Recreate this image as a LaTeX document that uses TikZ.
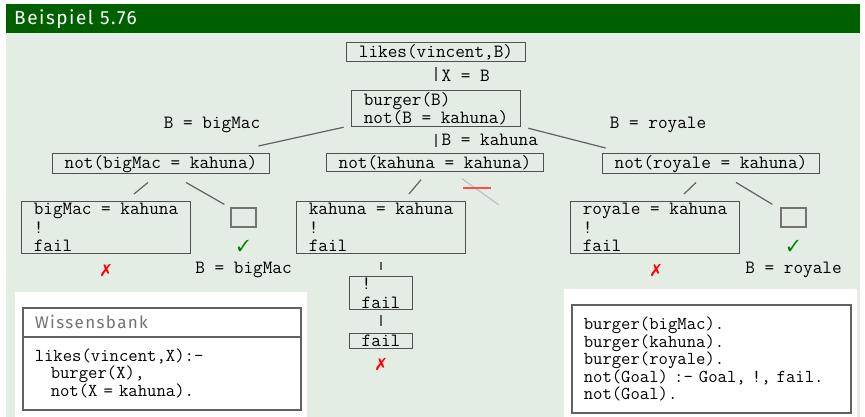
\documentclass[tikz,border=0pt]{standalone}
\usepackage{fontspec}
\usepackage{pifont}
\usetikzlibrary{calc}

\newfontfamily\headfont[LetterSpace=8]{Fira Sans}
\newcommand\treefont{\fontsize{18.7}{18.5}\selectfont\ttfamily}
\newcommand\codefont{\fontsize{18.2}{16.7}\selectfont\ttfamily}

\definecolor{blockhead}{RGB}{0,96,0}
\definecolor{blockbody}{RGB}{228,237,228}
\definecolor{boxline}{RGB}{80,80,80}

\begin{document}
\begin{tikzpicture}[x=1pt, y=-1pt,
  goal/.style={draw=boxline, line width=1.2pt, inner xsep=12.5pt, inner ysep=1.5pt,
    font=\treefont, align=left, anchor=north},
  hole/.style={draw=black!55, line width=1.2pt, minimum width=25pt, minimum height=19pt, inner sep=0pt},
  branch/.style={draw=black!62, line width=1.2pt},
  lbl/.style={font=\treefont, inner sep=0pt},
  yes/.style={text=green!50!black, font=\fontsize{16}{16}\selectfont, inner sep=0pt},
  no/.style={text=red, font=\fontsize{17}{17}\selectfont, inner sep=0pt},
  codebox/.style={draw=black!62, line width=1.5pt, anchor=north west, align=left, inner xsep=12pt}]
\useasboundingbox (0,0) rectangle (865,417);
\fill[white] (0,0) rectangle (865,417);

% block
\fill[blockhead] (6,4) rectangle (860,33);
\fill[blockbody] (6,33) rectangle (860,417);
\node[anchor=base west, inner sep=0pt, text=white, font=\headfont\fontsize{19}{19}\selectfont] (title) at (14,25) {Beispiel 5.76};

% tree
\node[goal] (likes) at (436,42) {likes(vincent,B)};
\node[goal] (burger) at (436,90) {burger(B)\\not(B = kahuna)};
\node[goal] (notbig) at (161,153) {not(bigMac = kahuna)};
\node[goal] (notkah) at (435,153) {not(kahuna = kahuna)};
\node[goal] (notroy) at (711,153) {not(royale = kahuna)};
\node[goal] (bigbox) at (106,201) {bigMac = kahuna\\!\\fail};
\node[goal] (kahbox) at (381,201) {kahuna = kahuna\\!\\fail};
\node[goal] (roybox) at (655,201) {royale = kahuna\\!\\fail};
\node[goal] (cutfail) at (381,276) {!\\fail};
\node[goal] (lastfail) at (381,333) {fail};
\node[hole] (holeL) at (243.5,217.5) {};
\node[hole] (holeR) at (793.5,217.5) {};
\coordinate (cutend) at (499,205);

\draw[branch, shorten <=5pt, shorten >=9pt] (likes.south) -- (burger.north)
  node[lbl, midway, right=5pt] {X = B};
\draw[branch, shorten <=7pt, shorten >=6pt] (burger.south) -- (burger.south |- notkah.north)
  node[lbl, midway, right=5pt] {B = kahuna};
\draw[branch] ($(burger.south west)+(-7,0)$) -- ($(notbig.north east)+(-12,-7)$);
\draw[branch] ($(burger.south east)+(7,1)$) -- ($(notroy.north west)+(4,-5)$);
\node[lbl] (lblbig) at (212,125) {B = bigMac};
\node[lbl] (lblroy) at (658,125) {B = royale};

\draw[branch] ($(notbig.south)+(-13,8)$) -- ($(bigbox.north)+(28,-7)$);
\draw[branch] ($(notbig.south)+(25,8)$) -- ($(holeL.north west)+(-6,-3)$);
\draw[branch] ($(notkah.south)+(-14,8)$) -- ($(kahbox.north)+(28,-7)$);
\draw[black!25, line width=1.2pt] ($(notkah.south)+(27,7)$) -- (cutend);
\draw[red!70!white, line width=1.6pt] ($(notkah.south)+(28,16)$) -- ++(28,0);
\draw[branch] ($(notroy.south)+(-15,8)$) -- ($(roybox.north)+(29,-7)$);
\draw[branch] ($(notroy.south)+(25,8)$) -- ($(holeR.north west)+(-8,-3)$);

\draw[branch, shorten <=8pt, shorten >=6pt] (kahbox.south) -- (cutfail.north);
\draw[branch, shorten <=5pt, shorten >=7pt] (cutfail.south) -- (lastfail.north);

\node[yes] (okL) at (243.5,246) {\ding{51}};
\node[yes] (okR) at (793.5,246) {\ding{51}};
\node[lbl] (resL) at (243.5,270) {B = bigMac};
\node[lbl] (resR) at (793.5,270) {B = royale};
\node[no] (noL) at (106,270) {\ding{55}};
\node[no] (noM) at (381,364) {\ding{55}};
\node[no] (noR) at (656,270) {\ding{55}};

% knowledge base
\fill[white] (15,292) rectangle (307,417);
\node[codebox, minimum width=278pt, minimum height=29pt, text width=254pt,
  font=\headfont\fontsize{17}{17}\selectfont\color{black!55}] (kbtitle) at (22,307) {Wissensbank};
\node[codebox, minimum width=278pt, minimum height=73pt, text width=254pt, font=\codefont] (kbcode) at (22,336)
  {likes(vincent,X):-\\\hspace*{16pt}burger(X),\\\hspace*{16pt}not(X = kahuna).};

\fill[white] (564,289) rectangle (857,417);
\node[codebox, minimum width=279pt, minimum height=108pt, text width=255pt, font=\codefont] (rules) at (571,304)
  {burger(bigMac).\\burger(kahuna).\\burger(royale).\\not(Goal) :- Goal, !, fail.\\not(Goal).};
\end{tikzpicture}
\end{document}
